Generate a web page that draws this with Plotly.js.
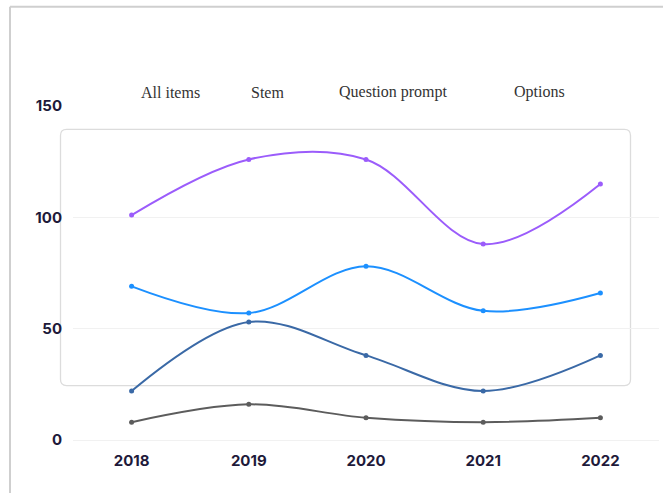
<!DOCTYPE html>
<html>
<head>
<meta charset="utf-8">
<script src="https://cdn.plot.ly/plotly-3.0.1.min.js"></script>
<style>
  html, body { margin: 0; padding: 0; background: #ffffff; }
  #chart { width: 663px; height: 493px; }
</style>
</head>
<body>
<div id="chart"></div>
<script>
// Yearly counts per item part
const years = ['2018', '2019', '2020', '2021', '2022'];
const seriesNames = ['All items', 'Stem', 'Question prompt', 'Options'];
const allItems = [101, 126, 126, 88, 115];
const stem = [69, 57, 78, 58, 66];
const questionPrompt = [22, 53, 38, 22, 38];
const options = [8, 16, 10, 8, 10];
const yTicks = [0, 50, 100, 150];

const seriesValues = [allItems, stem, questionPrompt, options];
const seriesColors = ['#9b5cfb', '#1c90ff', '#3a69a6', '#5c5c5c'];

const traces = seriesValues.map((vals, i) => ({
  type: 'scatter',
  mode: 'lines+markers',
  name: seriesNames[i],
  x: years,
  y: vals,
  line: { color: seriesColors[i], width: 2, shape: 'spline', smoothing: 1 },
  marker: { color: seriesColors[i], size: 5 },
  hoverinfo: 'x+y+name',
  showlegend: false
}));

// Plot area in pixels
const W = 663, H = 493;
const L = 73, R = 4, T = 106, B = 52.5;
const pw = W - L - R, ph = H - T - B;
const px = v => (v - L) / pw;            // pixel x -> paper x
const py = v => 1 - (v - T) / ph;        // pixel y -> paper y

// Rounded panel behind the series
function roundedRect(x0, y0, x1, y1, r) {
  const rx = r / pw, ry = r / ph;
  const a = px(x0), b = px(x1), c = py(y0), d = py(y1);
  return `M ${a + rx},${c} L ${b - rx},${c} Q ${b},${c} ${b},${c - ry} ` +
         `L ${b},${d + ry} Q ${b},${d} ${b - rx},${d} L ${a + rx},${d} ` +
         `Q ${a},${d} ${a},${d + ry} L ${a},${c - ry} Q ${a},${c} ${a + rx},${c} Z`;
}

const shapes = [
  {
    type: 'path', xref: 'paper', yref: 'paper', layer: 'below',
    path: roundedRect(60.5, 129.5, 630.5, 386, 6),
    line: { color: '#dcdcdc', width: 1.3 }, fillcolor: 'rgba(0,0,0,0)'
  },
  // outer frame: top and left edges
  {
    type: 'line', xref: 'paper', yref: 'paper',
    x0: px(10), x1: px(670), y0: py(6.5), y1: py(6.5),
    line: { color: '#cfcfcf', width: 2 }
  },
  {
    type: 'line', xref: 'paper', yref: 'paper',
    x0: px(10), x1: px(10), y0: py(6.5), y1: py(500),
    line: { color: '#cfcfcf', width: 2 }
  }
];

// Series labels row
const labelX = [170.5, 267.5, 393, 539];
const annotations = seriesNames.map((n, i) => ({
  text: n, xref: 'paper', yref: 'paper',
  x: px(labelX[i]), y: py(92), xanchor: 'center', yanchor: 'middle',
  showarrow: false,
  font: { family: 'Liberation Serif, Times New Roman, serif', size: 16, color: '#333333' }
}));

const tickFont = { family: 'Inter, Roboto, sans-serif', size: 15, color: '#1e1a3a', weight: 700 };

const layout = {
  width: W, height: H,
  margin: { l: L, r: R, t: T, b: B, pad: 0 },
  paper_bgcolor: '#ffffff',
  plot_bgcolor: '#ffffff',
  showlegend: false,
  xaxis: {
    type: 'category',
    range: [-0.5, 4.5],
    showgrid: false, zeroline: false, showline: false,
    ticks: 'outside', ticklen: 7, tickcolor: 'rgba(0,0,0,0)',
    tickfont: tickFont, fixedrange: true
  },
  yaxis: {
    range: [0, 150],
    tickvals: yTicks,
    ticktext: yTicks.map(String),
    showgrid: true, gridcolor: '#f1f1f1', gridwidth: 1,
    zeroline: true, zerolinecolor: '#f1f1f1', zerolinewidth: 1,
    showline: false,
    ticks: 'outside', ticklen: 7, tickcolor: 'rgba(0,0,0,0)',
    tickfont: tickFont, fixedrange: true
  },
  shapes: shapes,
  annotations: annotations
};

Plotly.newPlot('chart', traces, layout, { displayModeBar: false, staticPlot: false });
</script>
</body>
</html>
